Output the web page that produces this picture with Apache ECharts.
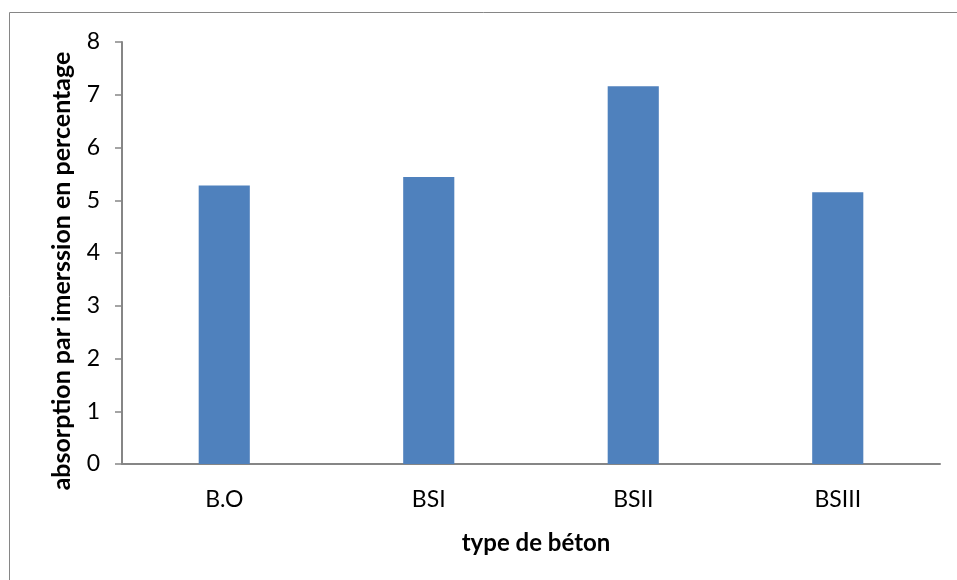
<!DOCTYPE html>
<html><head><meta charset="utf-8">
<script src="https://cdn.jsdelivr.net/npm/echarts@6/dist/echarts.min.js"></script>
<style>html,body{margin:0;padding:0;background:#fff}#c{width:957px;height:580px}</style>
</head><body><div id="c"></div>
<script>
const categories = ['B.O', 'BSI', 'BSII', 'BSIII'];
const values = [5.28, 5.44, 7.16, 5.15];
const yTicks = [0, 1, 2, 3, 4, 5, 6, 7, 8];
const xTitle = 'type de béton';
const yTitle = 'absorption par imerssion en percentage';

const chart = echarts.init(document.getElementById('c'), null, {renderer: 'canvas'});
const font = 'Lato, "Open Sans", sans-serif';
chart.setOption({
  animation: false,
  graphic: [{type: 'rect', shape: {x: 9.5, y: 12.5, width: 1000, height: 1000}, style: {fill: 'none', stroke: '#868686', lineWidth: 1}, silent: true}],
  grid: {left: 122, right: 17, top: 42, bottom: 116, containLabel: false},
  xAxis: {
    type: 'category', data: categories,
    name: xTitle, nameLocation: 'middle', nameGap: 67,
    nameTextStyle: {fontFamily: font, fontWeight: 'bold', fontSize: 24, color: '#000', padding: [0, 0, 0, 10]},
    axisLine: {lineStyle: {color: '#868686', width: 2}},
    axisTick: {show: false},
    axisLabel: {fontFamily: font, fontSize: 23, color: '#000', margin: 24}
  },
  yAxis: {
    type: 'value', min: 0, max: 8, interval: 1,
    name: yTitle, nameLocation: 'middle', nameGap: 48, nameRotate: 90,
    nameTextStyle: {fontFamily: font, fontWeight: 'bold', fontSize: 25, color: '#000', padding: [0, 36, 0, 0]},
    axisLine: {show: true, lineStyle: {color: '#868686', width: 2}},
    axisTick: {show: true, inside: false, length: 7, lineStyle: {color: '#868686', width: 1.5}},
    splitLine: {show: false},
    axisLabel: {fontFamily: font, fontSize: 23, color: '#000', margin: 22,
      formatter: v => yTicks.includes(v) ? String(v) : ''}
  },
  series: [{type: 'bar', data: values, barWidth: '25%', itemStyle: {color: '#4f81bd'}}]
});
</script></body></html>
